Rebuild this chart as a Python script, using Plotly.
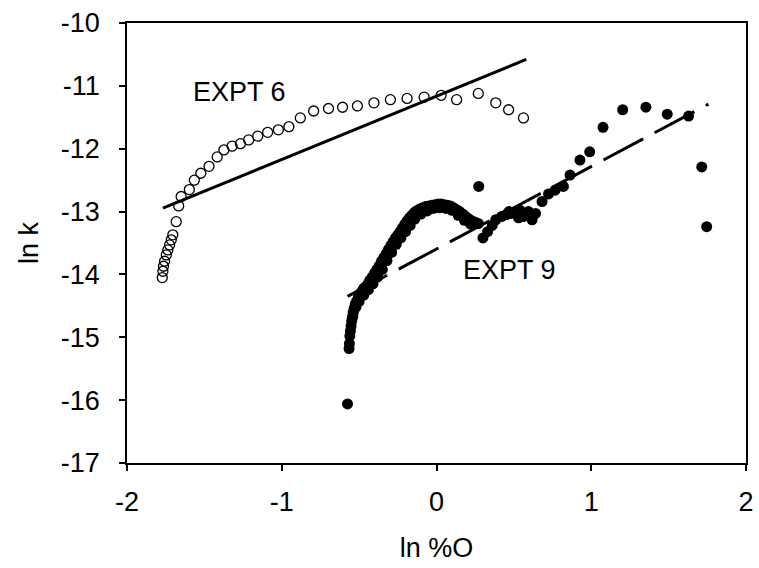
import plotly.graph_objects as go

# EXPT 6: open circles (ln %O, ln k)
expt6_x = [-1.772, -1.768, -1.764, -1.757, -1.746, -1.736, -1.725, -1.714, -1.704,
           -1.682, -1.666, -1.650, -1.597, -1.565, -1.523, -1.470, -1.417, -1.374,
           -1.321, -1.267, -1.214, -1.155, -1.091, -1.022, -0.954, -0.880, -0.794,
           -0.698, -0.607, -0.511, -0.404, -0.298, -0.19, -0.08, 0.03, 0.13, 0.27,
           0.383, 0.466, 0.562]
expt6_y = [-14.05, -13.95, -13.87, -13.79, -13.69, -13.61, -13.53, -13.45, -13.37,
           -13.16, -12.91, -12.76, -12.65, -12.50, -12.39, -12.28, -12.13, -12.02,
           -11.96, -11.92, -11.86, -11.80, -11.74, -11.70, -11.65, -11.51, -11.40,
           -11.36, -11.34, -11.32, -11.27, -11.22, -11.20, -11.18, -11.15, -11.22,
           -11.12, -11.27, -11.38, -11.51]

# EXPT 9: filled circles
expt9_x = [-0.575, -0.565, -0.563, -0.560, -0.556, -0.552, -0.548, -0.543, -0.538,
           -0.532, -0.525, -0.515, -0.505, -0.495, -0.480, -0.470, -0.455, -0.440,
           -0.430, -0.415, -0.400, -0.385, -0.370, -0.355, -0.340, -0.325, -0.310,
           -0.295, -0.280, -0.265, -0.250, -0.235, -0.220, -0.205, -0.190, -0.175,
           -0.160, -0.145, -0.130, -0.110, -0.090, -0.070, -0.050, -0.030, -0.010,
           0.010, 0.030, 0.050, 0.070, 0.090, 0.110, 0.130, 0.150, 0.170, 0.190,
           0.210, 0.230, 0.250, 0.270,
           -0.540, -0.520, -0.500, -0.470, -0.440, -0.410, -0.380, -0.350, -0.320,
           -0.290, -0.260, -0.230, -0.200, -0.170, -0.140, -0.100, -0.060, -0.020,
           0.020, 0.060, 0.100, 0.140, 0.180, 0.220,
           0.273, 0.300, 0.330, 0.360, 0.383, 0.420, 0.450, 0.468, 0.480, 0.510,
           0.530, 0.540, 0.560, 0.594, 0.600, 0.618, 0.640, 0.682, 0.724, 0.767,
           0.820, 0.863, 0.927, 0.990, 1.076, 1.203, 1.353, 1.491, 1.629, 1.714,
           1.746]
expt9_y = [-16.06, -15.18, -15.10, -14.98, -14.90, -14.82, -14.74, -14.68, -14.60,
           -14.54, -14.47, -14.42, -14.36, -14.31, -14.26, -14.22, -14.19, -14.14,
           -14.09, -14.04, -13.98, -13.92, -13.86, -13.79, -13.73, -13.67, -13.60,
           -13.54, -13.48, -13.42, -13.37, -13.32, -13.26, -13.20, -13.15, -13.10,
           -13.06, -13.02, -12.99, -12.96, -12.94, -12.92, -12.91, -12.90, -12.89,
           -12.88, -12.88, -12.89, -12.90, -12.91, -12.94, -12.97, -13.00, -13.04,
           -13.08, -13.12, -13.15, -13.17, -13.19,
           -14.66, -14.52, -14.43, -14.33, -14.24, -14.15, -14.04, -13.92, -13.78,
           -13.65, -13.52, -13.42, -13.32, -13.22, -13.12, -13.04, -12.99, -12.95,
           -12.94, -12.95, -12.98, -13.06, -13.14, -13.20,
           -12.60, -13.42, -13.32, -13.22, -13.13, -13.08, -13.05, -13.00, -13.03,
           -13.00, -13.10, -12.98, -13.08, -13.00, -13.05, -13.13, -13.03, -12.84,
           -12.72, -12.66, -12.60, -12.42, -12.18, -12.05, -11.66, -11.38, -11.34,
           -11.45, -11.48, -12.29, -13.24]

# Straight-line fits drawn through each experiment
fit6_x = [-1.768, 0.58]
fit6_y = [-12.946, -10.58]
fit9_x = [-0.575, 1.757]
fit9_y = [-14.35, -11.29]

x_ticks = [-2, -1, 0, 1, 2]
y_ticks = [-17, -16, -15, -14, -13, -12, -11, -10]

FONT = "Liberation Sans, Arial, sans-serif"
FSIZE = 27

fig = go.Figure()
fig.add_trace(go.Scatter(x=fit6_x, y=fit6_y, mode="lines",
                         line=dict(color="black", width=3), showlegend=False))
fig.add_trace(go.Scatter(x=fit9_x, y=fit9_y, mode="lines",
                         line=dict(color="black", width=3, dash="45px,13px"),
                         showlegend=False))
fig.add_trace(go.Scatter(x=expt6_x, y=expt6_y, mode="markers",
                         marker=dict(symbol="circle-open", size=10, color="black",
                                     line=dict(width=1.3, color="black")),
                         showlegend=False))
fig.add_trace(go.Scatter(x=expt9_x, y=expt9_y, mode="markers",
                         marker=dict(symbol="circle", size=11, color="black"),
                         showlegend=False))

fig.add_annotation(x=-1.27, y=-11.1, text="EXPT 6", showarrow=False,
                   font=dict(family=FONT, size=FSIZE, color="black"))
fig.add_annotation(x=0.47, y=-13.93, text="EXPT 9", showarrow=False,
                   font=dict(family=FONT, size=FSIZE, color="black"))

axis_common = dict(showgrid=False, zeroline=False, showline=True, linecolor="black",
                   linewidth=1.5, mirror=True, ticks="outside", ticklen=6,
                   tickwidth=1.5, tickcolor="black", ticklabeloverflow="allow",
                   tickfont=dict(family=FONT, size=FSIZE, color="black"))

fig.update_xaxes(range=[-2, 2], tickvals=x_ticks, ticktext=[str(v) for v in x_ticks],
                 ticklabelstandoff=8,
                 title=dict(text="ln %O", font=dict(family=FONT, size=FSIZE, color="black"),
                            standoff=22),
                 **axis_common)
fig.update_yaxes(range=[-17, -10], tickvals=y_ticks, ticktext=[str(v) for v in y_ticks],
                 ticklabelstandoff=14,
                 title=dict(text="ln k", font=dict(family=FONT, size=FSIZE, color="black"),
                            standoff=14),
                 **axis_common)

fig.update_layout(width=759, height=568, plot_bgcolor="white", paper_bgcolor="white",
                  margin=dict(l=127, r=5, t=23, b=105))

fig.write_html("out.html")
